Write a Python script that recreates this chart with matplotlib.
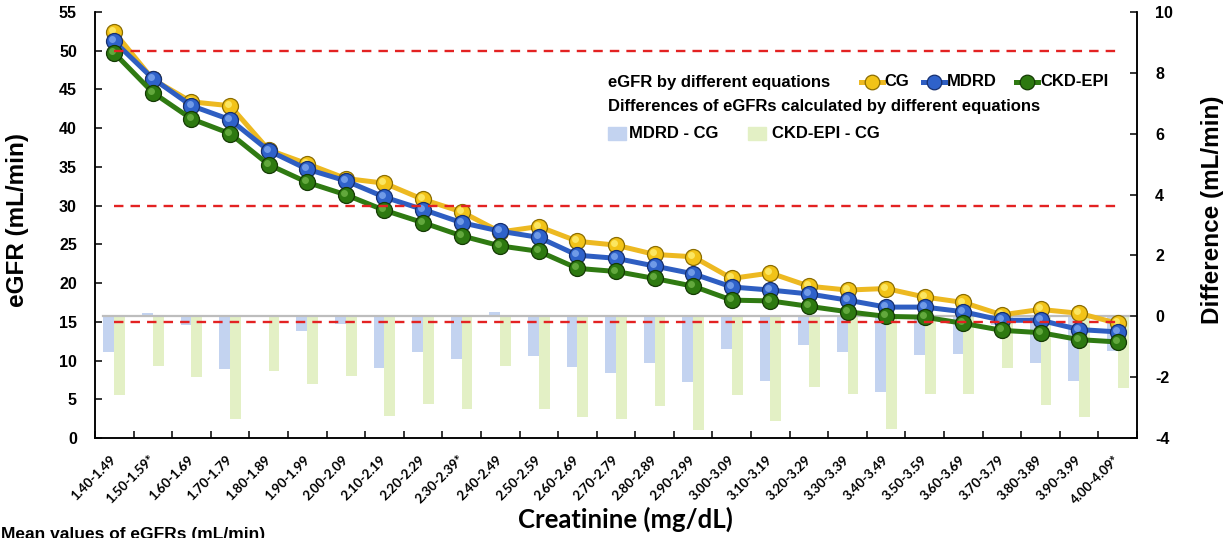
import matplotlib
matplotlib.use("Agg")
import matplotlib.pyplot as plt
import matplotlib.transforms as mtransforms
from matplotlib.lines import Line2D
from matplotlib.patches import Rectangle
import numpy as np

plt.rcParams["axes.unicode_minus"] = False

# ---------------- data ----------------
categories = ["1.40-1.49", "1.50-1.59*", "1.60-1.69", "1.70-1.79", "1.80-1.89", "1.90-1.99",
              "2.00-2.09", "2.10-2.19", "2.20-2.29", "2.30-2.39*", "2.40-2.49", "2.50-2.59",
              "2.60-2.69", "2.70-2.79", "2.80-2.89", "2.90-2.99", "3.00-3.09", "3.10-3.19",
              "3.20-3.29", "3.30-3.39", "3.40-3.49", "3.50-3.59", "3.60-3.69", "3.70-3.79",
              "3.80-3.89", "3.90-3.99", "4.00-4.09*"]

cg = [52.4, 46.3, 43.4, 42.9, 37.2, 35.4, 33.5, 32.9, 30.8, 29.2, 26.6, 27.3, 25.4, 24.9,
      23.7, 23.4, 20.6, 21.3, 19.6, 19.1, 19.3, 18.2, 17.5, 15.9, 16.6, 16.1, 14.8]
mdrd = [51.2, 46.4, 42.9, 41.1, 37.1, 34.7, 33.2, 31.1, 29.5, 27.8, 26.7, 25.9, 23.6, 23.2,
        22.2, 21.2, 19.5, 19.1, 18.6, 17.8, 16.9, 16.9, 16.3, 15.2, 15.2, 14.0, 13.7]
ckd_epi = [49.7, 44.6, 41.2, 39.3, 35.3, 33.0, 31.4, 29.4, 27.8, 26.1, 24.8, 24.1, 21.9, 21.5,
           20.6, 19.6, 17.8, 17.7, 17.0, 16.3, 15.7, 15.6, 14.8, 13.9, 13.6, 12.7, 12.4]

diff_mdrd_cg = [-1.16, 0.12, -0.29, -1.73, 0.0, -0.47, -0.26, -1.70, -1.19, -1.42, 0.15, -1.29,
                -1.68, -1.86, -1.52, -2.17, -1.07, -2.13, -0.93, -1.17, -2.50, -1.27, -1.24,
                -0.30, -1.54, -2.14, -1.13]
diff_ckd_cg = [-2.60, -1.62, -1.99, -3.37, -1.80, -2.22, -1.97, -3.28, -2.88, -3.05, -1.65, -3.06,
               -3.31, -3.37, -2.94, -3.75, -2.58, -3.44, -2.31, -2.54, -3.70, -2.55, -2.57,
               -1.71, -2.91, -3.31, -2.36]

ref_levels = [15, 30, 50]
left_ticks = list(range(0, 56, 5))
right_ticks = list(range(-4, 11, 2))

# ---------------- style ----------------
ARIAL = ["Liberation Sans", "DejaVu Sans"]
CALIBRI = ["Lato", "DejaVu Sans"]

series_style = [
    # line colour, face, edge, highlight
    ("#EDB921", "#F2C318", "#8C6D00", "#FFF27A"),
    ("#2E5EC2", "#2F62CA", "#162F6E", "#86AEF2"),
    ("#2F7A12", "#2D7910", "#143A04", "#74B84C"),
]
bar_blue = "#C3D3F0"
bar_green = "#E3F0C5"

W, H = 1232, 538
fig = plt.figure(figsize=(W / 100, H / 100), dpi=100)
AX_L, AX_R, AX_T, AX_B = 95, 1137, 12, 438
ax = fig.add_axes([AX_L / W, 1 - AX_B / H, (AX_R - AX_L) / W, (AX_B - AX_T) / H])
ax2 = ax.twinx()
ax.set_zorder(ax2.get_zorder() + 1)
ax.patch.set_visible(False)

x = np.arange(len(categories))
bw = 0.28

# bars (secondary axis)
ax2.bar(x - bw / 2, diff_mdrd_cg, width=bw, color=bar_blue, zorder=2, linewidth=0)
ax2.bar(x + bw / 2, diff_ckd_cg, width=bw, color=bar_green, zorder=2, linewidth=0)
ax2.plot([x[0] - bw, x[-1] + bw], [0, 0], color="#BDBDBD", lw=1.6, zorder=3)
ax2.set_ylim(-4, 10)
ax2.set_yticks(right_ticks)

# lines (primary axis)
hl = mtransforms.offset_copy(ax.transData, fig=fig, x=-1.4, y=1.4, units="points")
for i, (vals, (lc, fc, ec, hc)) in enumerate(zip([cg, mdrd, ckd_epi], series_style)):
    z = 4 + i * 3
    ax.plot(x, vals, color=lc, lw=3.6, zorder=z, solid_capstyle="round")
    ax.plot(x, vals, ls="none", marker="o", ms=11.5, mfc=fc, mec=ec, mew=0.9, zorder=z + 1)
    ax.plot(x, vals, ls="none", marker="o", ms=5, mfc=hc, mec="none", alpha=0.75,
            zorder=z + 2, transform=hl)

for lv in ref_levels:
    ax.plot([x[0], x[-1]], [lv, lv], color="#E32222", lw=1.7, ls=(0, (4, 3)), zorder=20)

ax.set_ylim(0, 55)
ax.set_yticks(left_ticks)
ax.set_xlim(-0.5, len(categories) - 0.5)
ax.set_xticks(x)
ax.set_xticks(np.arange(len(categories) + 1) - 0.5, minor=True)
ax.set_xticklabels(categories, rotation=45, ha="right", va="center", rotation_mode="anchor",
                   fontsize=9.5, fontweight="bold", family=CALIBRI)
ax.tick_params(axis="x", which="major", length=0, pad=14)
ax.tick_params(axis="x", which="minor", direction="in", length=5, width=1.1, color="black")
ax.tick_params(axis="y", direction="in", length=5, width=1.1, pad=13)
ax2.tick_params(axis="y", direction="in", length=5, width=1.1, pad=13)
for lab in ax.get_yticklabels() + ax2.get_yticklabels():
    lab.set_fontweight("bold")
    lab.set_fontsize(11.5)
    lab.set_family(ARIAL)

for a in (ax, ax2):
    a.spines["top"].set_visible(False)
    for s in ("left", "right", "bottom"):
        a.spines[s].set_linewidth(1.1)
        a.spines[s].set_color("black")

fig.text(18 / W, 1 - 220 / H, "eGFR (mL/min)", rotation=90, ha="center", va="center",
         fontsize=17.5, fontweight="bold", family=ARIAL)
fig.text(1212 / W, 1 - 210 / H, "Difference (mL/min)", rotation=90, ha="center", va="center",
         fontsize=17.5, fontweight="bold", family=ARIAL)
fig.text(625 / W, 1 - 519 / H, "Creatinine (mg/dL)", ha="center", va="center",
         fontsize=18.5, fontweight="bold", family=CALIBRI)
fig.text(1 / W, 1 - 527 / H, "Mean values of eGFRs (mL/min)", ha="left", va="top",
         fontsize=12.5, fontweight="bold", family=ARIAL)

# ---------------- legend (manual) ----------------
def fx(px):
    return (px - AX_L) / (AX_R - AX_L)

def fy(py):
    return (AX_B - py) / (AX_B - AX_T)

tkw = dict(transform=ax.transAxes, fontsize=12, fontweight="bold", family=ARIAL,
           va="center", ha="left", zorder=30)
ax.text(fx(608), fy(82), "eGFR by different equations", **tkw)
ax.text(fx(608), fy(106), "Differences of eGFRs calculated by different equations", **tkw)

leg_items = [("CG", 861, 883, 884), ("MDRD", 923, 945, 947), ("CKD-EPI", 1016, 1038, 1040)]
for (lab, x0, x1, xt), (lc, fc, ec, hc) in zip(leg_items, series_style):
    ax.add_line(Line2D([fx(x0), fx(x1)], [fy(82), fy(82)], color=lc, lw=3.6,
                       transform=ax.transAxes, zorder=30, clip_on=False))
    xm = fx((x0 + x1) / 2)
    ax.add_line(Line2D([xm], [fy(82)], ls="none", marker="o", ms=10.5, mfc=fc, mec=ec, mew=0.9,
                       transform=ax.transAxes, zorder=31, clip_on=False))
    ax.text(fx(xt), fy(82), lab, **tkw)

for (lab, x0, x1, xt), col in zip([("MDRD - CG", 608, 626, 629), ("CKD-EPI - CG", 748, 766, 772)],
                                  [bar_blue, bar_green]):
    ax.add_patch(Rectangle((fx(x0), fy(140)), fx(x1) - fx(x0), fy(127) - fy(140),
                           transform=ax.transAxes, color=col, zorder=30, clip_on=False))
    ax.text(fx(xt), fy(133), lab, **tkw)

fig.savefig("out.png", dpi=100)
